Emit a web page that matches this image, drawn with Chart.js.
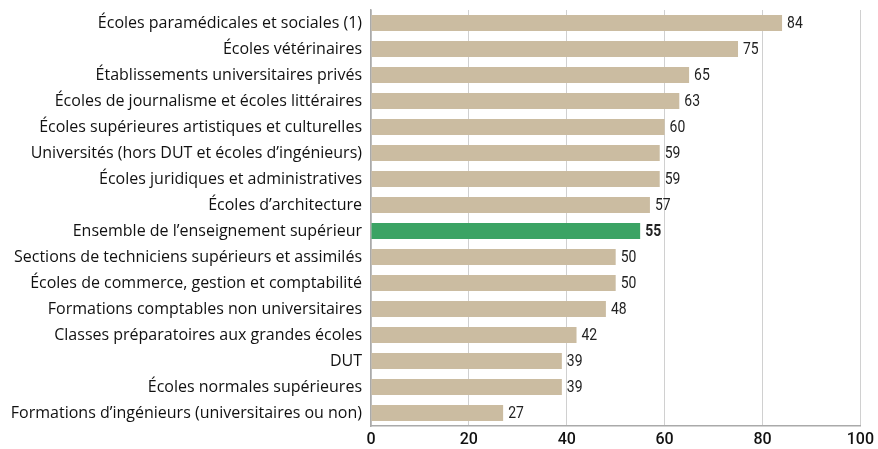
<!DOCTYPE html>
<html>
<head>
<meta charset="utf-8">
<script src="https://cdn.jsdelivr.net/npm/chart.js@4"></script>
<style>
  html, body { margin: 0; padding: 0; background: #fff; }
  #wrap { width: 878px; height: 449px; }
</style>
</head>
<body>
<div id="wrap"><canvas id="chart" width="878" height="449"></canvas></div>
<script>
const categories = [
    'Écoles paramédicales et sociales (1)',
    'Écoles vétérinaires',
    'Établissements universitaires privés',
    'Écoles de journalisme et écoles littéraires',
    'Écoles supérieures artistiques et culturelles',
    'Universités (hors DUT et écoles d’ingénieurs)',
    'Écoles juridiques et administratives',
    'Écoles d’architecture',
    'Ensemble de l’enseignement supérieur',
    'Sections de techniciens supérieurs et assimilés',
    'Écoles de commerce, gestion et comptabilité',
    'Formations comptables non universitaires',
    'Classes préparatoires aux grandes écoles',
    'DUT',
    'Écoles normales supérieures',
    'Formations d’ingénieurs (universitaires ou non)'
];
const values = [84, 75, 65, 63, 60, 59, 59, 57, 55, 50, 50, 48, 42, 39, 39, 27];
const highlight = 'Ensemble de l’enseignement supérieur';
const xTicks = [0, 20, 40, 60, 80, 100];

const tan = '#cbbca1';
const green = '#3ba364';

// étiquettes de valeur au bout des barres (police resserrée)
const valueLabels = {
    id: 'valueLabels',
    afterDatasetsDraw(chart) {
        const ctx = chart.ctx;
        const meta = chart.getDatasetMeta(0);
        meta.data.forEach((bar, i) => {
            const bold = categories[i] === highlight;
            ctx.save();
            ctx.translate(bar.x + 5, bar.y);
            ctx.scale(0.82, 1);
            ctx.textBaseline = 'middle';
            ctx.textAlign = 'left';
            ctx.fillStyle = '#222';
            ctx.font = (bold ? 'bold ' : '') + '17px Roboto, sans-serif';
            ctx.fillText(values[i], 0, 1);
            ctx.restore();
        });
    }
};

const ctx = document.getElementById('chart').getContext('2d');
new Chart(ctx, {
    type: 'bar',
    data: {
        labels: categories,
        datasets: [{
            data: values,
            backgroundColor: categories.map(c => c === highlight ? green : tan),
            barPercentage: 0.62,
            categoryPercentage: 1
        }]
    },
    options: {
        indexAxis: 'y',
        responsive: false,
        animation: false,
        layout: { padding: { top: 10, right: 17, bottom: 0, left: 0 } },
        plugins: {
            legend: { display: false },
            tooltip: { enabled: false }
        },
        scales: {
            x: {
                min: 0,
                max: 100,
                afterBuildTicks(scale) {
                    scale.ticks = xTicks.map(v => ({ value: v }));
                },
                grid: { color: '#d0d0d0', lineWidth: 1, drawTicks: false },
                border: { color: '#aaaaaa', width: 1.5 },
                ticks: {
                    color: '#111',
                    padding: 4,
                    font: { family: 'Roboto', size: 16, weight: '500' }
                },
                afterFit(scale) { scale.height = 23; }
            },
            y: {
                grid: { display: false, drawTicks: false },
                border: { color: '#aaaaaa', width: 1.5 },
                ticks: {
                    color: '#111',
                    padding: 9,
                    autoSkip: false,
                    font: { family: 'Open Sans', size: 16 }
                },
                afterFit(scale) {
                    scale.width = 371;
                    scale.paddingTop = 0;
                    scale.paddingBottom = 0;
                }
            }
        }
    },
    plugins: [valueLabels]
});
</script>
</body>
</html>
